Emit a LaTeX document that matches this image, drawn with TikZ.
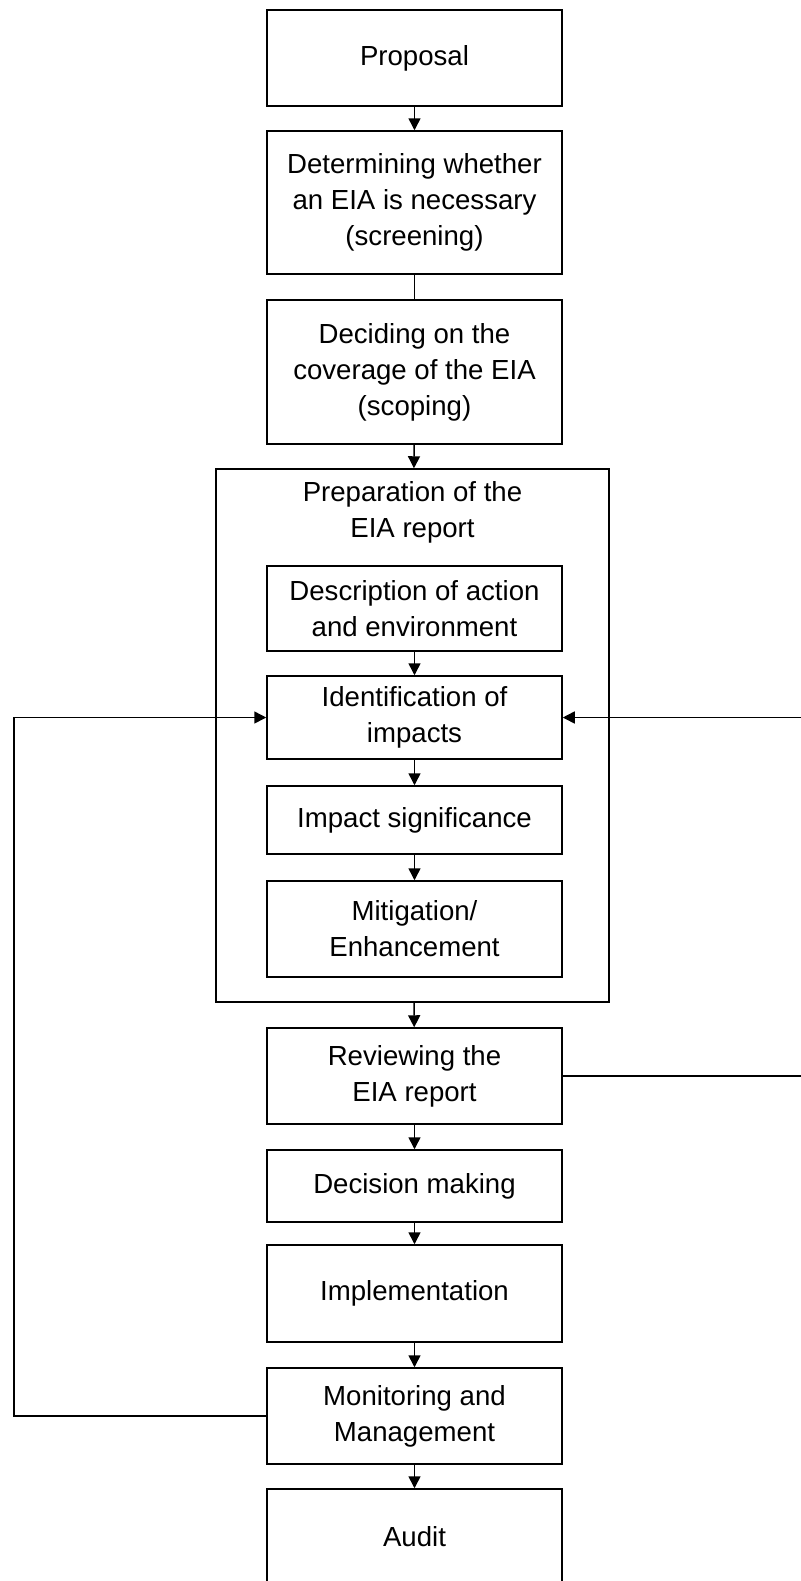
\documentclass[tikz,border=0pt]{standalone}
\usepackage{fontspec}
\setmainfont{Liberation Sans}
\usetikzlibrary{arrows.meta}
\tikzset{
    stepbox/.style={draw,line width=0.75pt,minimum width=147.5pt,inner sep=0pt,align=center,font=\fontsize{13.8}{18}\selectfont},
    flow/.style={line width=0.75pt,-{Triangle[length=6pt,width=6pt]}},
    link/.style={line width=0.75pt}
}
\begin{document}
\begin{tikzpicture}[x=0.5pt,y=-0.5pt]
    \useasboundingbox (0,0) rectangle (800,1581);
    \node[stepbox,minimum height=48pt] (proposal) at (414.5,58) {Proposal};
    \node[stepbox,minimum height=71.5pt] (screening) at (414.5,202.5) {Determining whether\\an EIA is necessary\\(screening)};
    \node[stepbox,minimum height=72pt] (scoping) at (414.5,372) {Deciding on the\\coverage of the EIA\\(scoping)};
    \node[draw,line width=0.75pt,minimum width=196.5pt,minimum height=266.5pt,inner sep=0pt] (prep) at (412.5,735.5) {};
    \node[align=center,font=\fontsize{13.8}{18}\selectfont,anchor=north] (preptitle) at (412.5,474) {Preparation of the\\EIA report};
    \node[stepbox,minimum height=42.5pt] (descr) at (414.5,608.5) {Description of action\\and environment};
    \node[stepbox,minimum height=41.5pt] (ident) at (414.5,717.5) {Identification of\\impacts};
    \node[stepbox,minimum height=34pt] (signif) at (414.5,820) {Impact significance};
    \node[stepbox,minimum height=48pt] (mitig) at (414.5,929) {Mitigation/\\Enhancement};
    \node[stepbox,minimum height=48pt] (review) at (414.5,1076) {Reviewing the\\EIA report};
    \node[stepbox,minimum height=36pt] (decision) at (414.5,1186) {Decision making};
    \node[stepbox,minimum height=48.5pt] (implem) at (414.5,1293.5) {Implementation};
    \node[stepbox,minimum height=48pt] (monit) at (414.5,1416) {Monitoring and\\Management};
    \node[stepbox,minimum height=48pt] (audit) at (414.5,1537) {Audit};
    % main sequence
    \draw[flow] (proposal)--(screening);
    \draw[link] (screening)--(scoping);
    \draw[flow] (scoping)--(prep);
    \draw[flow] (descr)--(ident);
    \draw[flow] (ident)--(signif);
    \draw[flow] (signif)--(mitig);
    \draw[flow] (prep)--(review);
    \draw[flow] (review)--(decision);
    \draw[flow] (decision)--(implem);
    \draw[flow] (implem)--(monit);
    \draw[flow] (monit)--(audit);
    % feedback loops
    \coordinate (leftlow) at (14,1416);
    \coordinate (lefthigh) at (14,717.5);
    \coordinate (rightlow) at (806,1076);
    \coordinate (righthigh) at (806,717.5);
    \draw[flow] (monit.west)--(leftlow)--(lefthigh)--(ident.west);
    \draw[flow] (review.east)--(rightlow)--(righthigh)--(ident.east);
\end{tikzpicture}
\end{document}
